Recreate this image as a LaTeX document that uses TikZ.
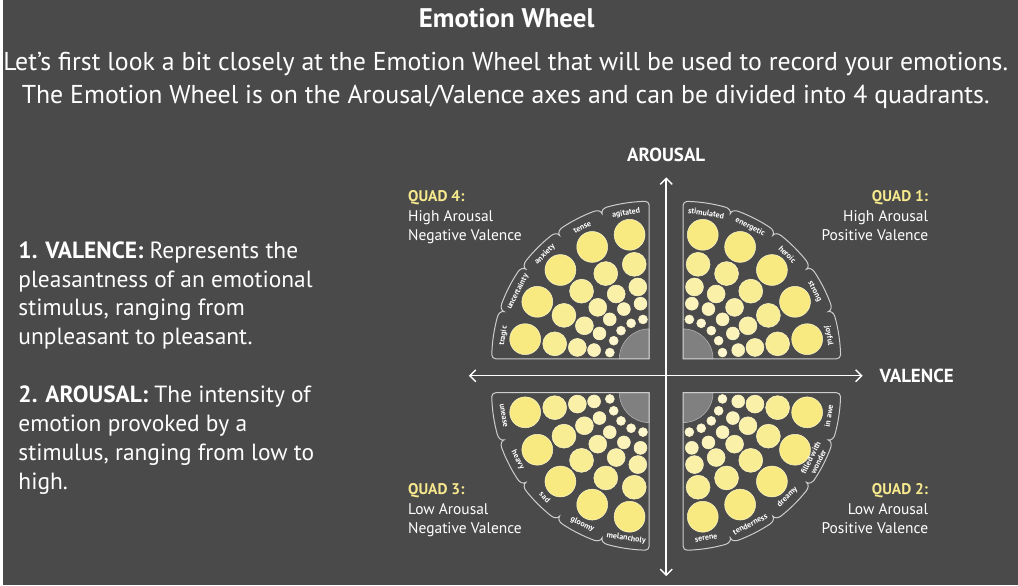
\documentclass[tikz,border=0pt]{standalone}
\usepackage{fontspec}
\setmainfont{PT Sans}
\usetikzlibrary{arrows.meta,positioning}

\definecolor{slate}{RGB}{74,74,74}
\definecolor{rimgray}{RGB}{205,205,205}
\definecolor{quadyellow}{RGB}{247,233,141}
\definecolor{bubblehi}{RGB}{248,234,128}
\definecolor{bubblelo}{RGB}{253,246,206}
\definecolor{hubgray}{RGB}{128,128,128}

\tikzset{
  rim/.style={draw=rimgray, line width=1pt},
  hub/.style={fill=hubgray, draw=rimgray!60!hubgray, line width=0.6pt},
  mood/.style={font=\fontsize{8}{8.6}\selectfont\bfseries, text=white, inner sep=0pt, align=center},
  axis/.style={draw=white, line width=1.4pt, {Straight Barb[length=6pt,width=12pt]}-{Straight Barb[length=6pt,width=12pt]}},
  axislabel/.style={font=\fontsize{19}{22}\selectfont\bfseries, text=white, inner sep=0pt},
  quadtext/.style={font=\fontsize{15.5}{19.5}\selectfont, text=white, inner sep=0pt},
  bodytext/.style={font=\fontsize{23.5}{29}\selectfont, text=white, inner sep=0pt, align=left}
}

\begin{document}
\begin{tikzpicture}[x=1pt, y=1pt]
\fill[slate] (0,0) rectangle (1018,587);

% heading
\node[font=\fontsize{27}{30}\selectfont\bfseries, text=white] (title) at (505,569) {Emotion Wheel};
\node[font=\fontsize{25.9}{33}\selectfont, text=white, align=center] (intro) at (504,506)
  {Let’s first look a bit closely at the Emotion Wheel that will be used to record your emotions.\\
   The Emotion Wheel is on the Arousal/Valence axes and can be divided into 4 quadrants.};

% left column
\node[bodytext, anchor=north west] (valence) at (15,345)
  {\textbf{1. VALENCE:} Represents the\\pleasantness of an emotional\\stimulus, ranging from\\unpleasant to pleasant.};
\node[bodytext, anchor=north west] (arousal) at (15,200)
  {\textbf{2. AROUSAL:} The intensity of\\emotion provoked by a\\stimulus, ranging from low to\\high.};

% the four quadrants of the wheel
\foreach \cx/\cy/\s/\tilt/\labs [count=\q] in {
    682/227/0/-90/{joyful,strong,heroic,energetic,stimulated},
    682/193/270/90/{serene,tenderness,dreamy,{filled with\\wonder},in awe},
    648/193/180/90/{unease,heavy,sad,gloomy,melancholy},
    648/227/90/-90/{agitated,tense,anxiety,uncertainty,tragic}}{
  \begin{scope}[shift={(\cx,\cy)}]
    \filldraw[hub] (0,0) -- (\s:30) arc[start angle=\s, end angle=\s+90, radius=30] -- cycle;
    \foreach \rr/\cr/\mix in {40/4.5/0, 56/6.5/25, 73/9/50, 96/12/75, 126/15.5/100}
      \foreach \k in {0,...,4}
        \filldraw[fill=bubblehi!\mix!bubblelo, draw=white!60!bubblehi, line width=0.5pt]
          (\s+9+18*\k:\rr) circle[radius=\cr];
    \draw[rim] (0,0) -- (\s:154) arc[start angle=\s-90, end angle=\s, radius=4]
      arc[start angle=\s+1.45, end angle=\s+15.5, radius=158]
      \foreach \b in {18,36,54,72} {
        to[out=\s+\b+87.5, in=\s+\b] (\s+\b:153)
        to[out=\s+\b, in=\s+\b-87.5] (\s+\b+2.5:158)
        arc[start angle=\s+\b+2.5, end angle=\s+\b+15.5, radius=158] }
      arc[start angle=\s+87.5, end angle=\s+88.55, radius=158]
      arc[start angle=\s+90, end angle=\s+180, radius=4] -- cycle;
    \foreach \lab [count=\j] in \labs
      \node[mood, rotate=\s+18*\j-9+\tilt] (mood-\q-\j) at (\s+18*\j-9:148) {\lab};
  \end{scope}
}

% axes
\coordinate (west) at (467,210);
\coordinate (east) at (862,210);
\coordinate (north) at (665,409);
\coordinate (south) at (665,9);
\draw[axis] (west) -- (east);
\draw[axis] (south) -- (north);
\node[axislabel, above=16pt of north] (arousal-lab) {AROUSAL};
\node[axislabel, right=17pt of east] (valence-lab) {VALENCE};

% quadrant captions
\node[quadtext, anchor=north west, align=left] (quad4) at (406,396)
  {\textcolor{quadyellow}{\bfseries QUAD 4:}\\High Arousal\\Negative Valence};
\node[quadtext, anchor=north east, align=right] (quad1) at (928,396)
  {\textcolor{quadyellow}{\bfseries QUAD 1:}\\High Arousal\\Positive Valence};
\node[quadtext, anchor=north west, align=left] (quad3) at (406,102)
  {\textcolor{quadyellow}{\bfseries QUAD 3:}\\Low Arousal\\Negative Valence};
\node[quadtext, anchor=north east, align=right] (quad2) at (928,102)
  {\textcolor{quadyellow}{\bfseries QUAD 2:}\\Low Arousal\\Positive Valence};
\end{tikzpicture}
\end{document}
